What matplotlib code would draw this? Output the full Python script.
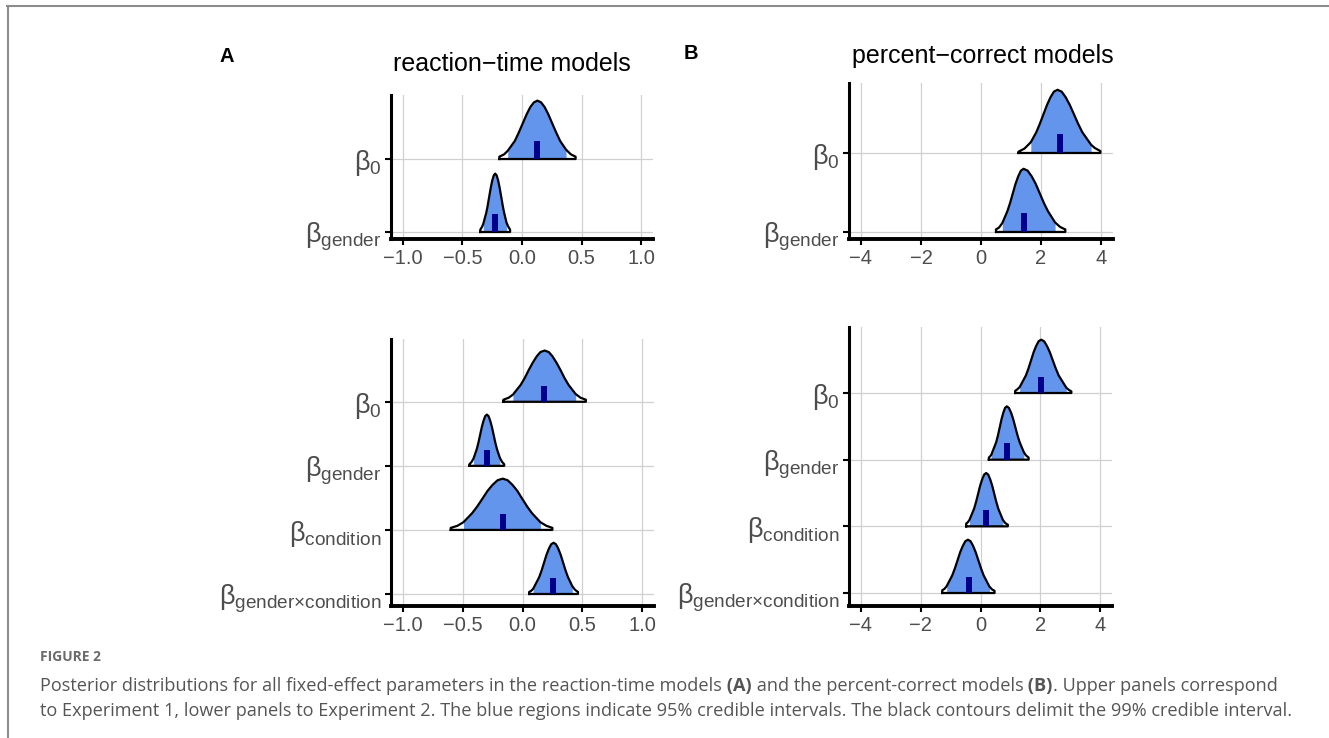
import numpy as np
import matplotlib
matplotlib.use('Agg')
import matplotlib.pyplot as plt
from matplotlib.lines import Line2D

plt.rcParams['font.family'] = ['Liberation Sans', 'DejaVu Sans']
plt.rcParams['mathtext.fontset'] = 'custom'
plt.rcParams['mathtext.rm'] = 'Liberation Sans'
plt.rcParams['mathtext.it'] = 'Liberation Sans'
plt.rcParams['mathtext.bf'] = 'Liberation Sans:bold'

# ---- data ----
labels_exp1 = [r'$\beta_{0}$', r'$\beta_{gender}$']
labels_exp2 = [r'$\beta_{0}$', r'$\beta_{gender}$', r'$\beta_{condition}$',
               r'$\beta_{gender{\times}condition}$']

# reaction-time, experiment 1  (x positions / heights relative to the peak)
rt1_x = [[-0.19, -0.15, -0.12, -0.06, -0.03, 0.00, 0.04, 0.07, 0.10, 0.13, 0.16, 0.19, 0.22, 0.26, 0.29, 0.32, 0.37, 0.41, 0.45],
         [-0.35, -0.335, -0.325, -0.30, -0.29, -0.275, -0.262, -0.25, -0.237, -0.225, -0.213, -0.20, -0.188, -0.175, -0.16, -0.15, -0.13, -0.115, -0.10]]
rt1_h = [[0.04, 0.08, 0.14, 0.31, 0.44, 0.58, 0.77, 0.89, 0.97, 1.0, 0.97, 0.89, 0.77, 0.58, 0.44, 0.31, 0.16, 0.08, 0.04],
         [0.04, 0.09, 0.14, 0.33, 0.43, 0.61, 0.76, 0.88, 0.97, 1.0, 0.97, 0.88, 0.76, 0.61, 0.43, 0.33, 0.16, 0.09, 0.04]]
rt1_med = [0.125, -0.228]
rt1_ci95 = [(-0.12, 0.37), (-0.325, -0.13)]

# reaction-time, experiment 2
rt2_x = [[-0.16, -0.115, -0.08, -0.015, 0.02, 0.05, 0.085, 0.12, 0.15, 0.185, 0.22, 0.25, 0.285, 0.32, 0.35, 0.385, 0.445, 0.485, 0.53],
         [-0.444, -0.425, -0.41, -0.382, -0.368, -0.354, -0.34, -0.326, -0.312, -0.298, -0.284, -0.27, -0.256, -0.242, -0.228, -0.214, -0.19, -0.172, -0.153],
         [-0.60, -0.545, -0.494, -0.42, -0.378, -0.335, -0.293, -0.25, -0.208, -0.165, -0.125, -0.084, -0.043, -0.003, 0.038, 0.078, 0.15, 0.20, 0.25],
         [0.056, 0.072, 0.089, 0.14, 0.16, 0.18, 0.20, 0.22, 0.24, 0.26, 0.28, 0.30, 0.32, 0.34, 0.36, 0.38, 0.417, 0.44, 0.464]]
rt2_h = [[0.04, 0.08, 0.14, 0.33, 0.47, 0.61, 0.76, 0.89, 0.97, 1.0, 0.97, 0.89, 0.76, 0.61, 0.47, 0.33, 0.15, 0.08, 0.04],
         [0.03, 0.08, 0.14, 0.33, 0.46, 0.61, 0.76, 0.88, 0.97, 1.0, 0.97, 0.88, 0.76, 0.61, 0.46, 0.33, 0.16, 0.08, 0.03],
         [0.04, 0.08, 0.15, 0.33, 0.46, 0.61, 0.76, 0.88, 0.97, 1.0, 0.97, 0.88, 0.76, 0.61, 0.46, 0.33, 0.15, 0.08, 0.04],
         [0.04, 0.06, 0.10, 0.33, 0.46, 0.61, 0.76, 0.88, 0.97, 1.0, 0.97, 0.88, 0.76, 0.61, 0.46, 0.33, 0.15, 0.08, 0.04]]
rt2_med = [0.178, -0.297, -0.167, 0.258]
rt2_ci95 = [(-0.08, 0.445), (-0.41, -0.19), (-0.494, 0.15), (0.089, 0.417)]

# percent-correct, experiment 1
pc1_x = [[1.25, 1.45, 1.66, 1.845, 1.96, 2.08, 2.2, 2.315, 2.43, 2.55, 2.69, 2.825, 2.96, 3.10, 3.24, 3.375, 3.67, 3.79, 3.98],
         [0.50, 0.60, 0.71, 0.88, 0.97, 1.06, 1.15, 1.24, 1.33, 1.42, 1.555, 1.69, 1.825, 1.96, 2.095, 2.23, 2.47, 2.635, 2.81]]
pc1_h = [[0.02, 0.07, 0.17, 0.33, 0.46, 0.61, 0.76, 0.88, 0.97, 1.0, 0.97, 0.88, 0.76, 0.61, 0.46, 0.33, 0.13, 0.08, 0.03],
         [0.04, 0.07, 0.14, 0.33, 0.46, 0.61, 0.76, 0.88, 0.97, 1.0, 0.97, 0.88, 0.76, 0.61, 0.46, 0.33, 0.15, 0.08, 0.04]]
pc1_med = [2.63, 1.44]
pc1_ci95 = [(1.66, 3.67), (0.71, 2.47)]

# percent-correct, experiment 2
pc2_x = [[1.16, 1.235, 1.31, 1.52, 1.605, 1.69, 1.775, 1.86, 1.945, 2.03, 2.128, 2.225, 2.323, 2.42, 2.518, 2.615, 2.87, 2.95, 3.04],
         [0.28, 0.32, 0.36, 0.527, 0.586, 0.645, 0.704, 0.763, 0.821, 0.88, 0.951, 1.023, 1.094, 1.165, 1.236, 1.308, 1.45, 1.52, 1.61],
         [-0.48, -0.42, -0.37, -0.215, -0.147, -0.08, -0.013, 0.055, 0.122, 0.19, 0.258, 0.325, 0.393, 0.46, 0.528, 0.595, 0.75, 0.83, 0.915],
         [-1.28, -1.2, -1.13, -0.945, -0.858, -0.77, -0.683, -0.595, -0.508, -0.42, -0.333, -0.245, -0.158, -0.07, 0.018, 0.105, 0.30, 0.38, 0.47]]
pc2_h = [[0.04, 0.07, 0.11, 0.33, 0.46, 0.61, 0.76, 0.88, 0.97, 1.0, 0.97, 0.88, 0.76, 0.61, 0.46, 0.33, 0.10, 0.06, 0.03],
         [0.04, 0.06, 0.09, 0.33, 0.46, 0.61, 0.76, 0.88, 0.97, 1.0, 0.97, 0.88, 0.76, 0.61, 0.46, 0.33, 0.14, 0.08, 0.04],
         [0.05, 0.08, 0.12, 0.33, 0.46, 0.61, 0.76, 0.88, 0.97, 1.0, 0.97, 0.88, 0.76, 0.61, 0.46, 0.33, 0.12, 0.06, 0.03],
         [0.05, 0.08, 0.13, 0.33, 0.46, 0.61, 0.76, 0.88, 0.97, 1.0, 0.97, 0.88, 0.76, 0.61, 0.46, 0.33, 0.12, 0.07, 0.04]]
pc2_med = [2.04, 0.89, 0.2, -0.40]
pc2_ci95 = [(1.31, 2.87), (0.36, 1.45), (-0.37, 0.75), (-1.13, 0.30)]

rt_ticks = [-1.0, -0.5, 0.0, 0.5, 1.0]
rt_ticklabels = ['\u22121.0', '\u22120.5', '0.0', '0.5', '1.0']
pc_ticks = [-4, -2, 0, 2, 4]
pc_ticklabels = ['\u22124', '\u22122', '0', '2', '4']

caption_head = 'FIGURE 2'
caption_line1 = [('Posterior distributions for all fixed-effect parameters in the reaction-time models', 'normal'),
                 (' (A)', 'bold'),
                 (' and the percent-correct models', 'normal'),
                 (' (B)', 'bold'),
                 ('. Upper panels correspond', 'normal')]
caption_line2 = ('to Experiment 1, lower panels to Experiment 2. The blue regions indicate 95% '
                 'credible intervals. The black contours delimit the 99% credible interval.')

W, H = 1329, 738
FILL = '#6495ED'
POINT = '#00008B'
GREY = '#4D4D4D'
RIDGE = 0.8
CAPFONT = ['Open Sans', 'DejaVu Sans']
CAPSIZE = 13.05


def px_box(left, top, right, bottom):
    return [left / W, 1 - bottom / H, (right - left) / W, (bottom - top) / H]


def ridges(ax, labels, xs, hs, meds, ci95, xlim, ylim, ticks, ticklabels):
    n = len(labels)
    for i in range(n):
        base = n - i
        x = np.array(xs[i])
        y = base + RIDGE * np.array(hs[i])
        lo, hi = ci95[i]
        ax.fill_between(x, base, y, color='white', lw=0, zorder=3)
        m = (x >= lo - 1e-9) & (x <= hi + 1e-9)
        ax.fill_between(x[m], base, y[m], color=FILL, lw=0, zorder=4)
        ax.plot(np.r_[x[0], x, x[-1], x[0]], np.r_[base, y, base, base],
                color='black', lw=1.6, zorder=5, solid_joinstyle='round')
        ax.vlines(meds[i], base, base + 0.245, color=POINT, lw=4.3, zorder=6)
    ax.set_xlim(*xlim)
    ax.set_ylim(*ylim)
    ax.set_xticks(ticks)
    ax.set_xticklabels(ticklabels)
    ax.set_yticks(range(n, 0, -1))
    ax.set_yticklabels(labels)
    ax.grid(True, color='#d0d0d0', lw=0.9, zorder=0)
    ax.set_axisbelow(True)
    for s in ['top', 'right']:
        ax.spines[s].set_visible(False)
    ax.spines['left'].set_linewidth(2.2)
    ax.spines['bottom'].set_linewidth(2.8)
    ax.tick_params(axis='x', length=4, width=1.5, pad=3, labelsize=14.5, labelcolor=GREY)
    ax.tick_params(axis='y', length=4, width=1.5, pad=3, labelsize=19.5, labelcolor=GREY)


fig = plt.figure(figsize=(W / 100, H / 100), dpi=100)

ax1 = fig.add_axes(px_box(391, 95, 653, 239))
ridges(ax1, labels_exp1, rt1_x, rt1_h, rt1_med, rt1_ci95, (-1.1, 1.1), (0.904, 2.877), rt_ticks, rt_ticklabels)
ax2 = fig.add_axes(px_box(849, 83, 1113, 239))
ridges(ax2, labels_exp1, pc1_x, pc1_h, pc1_med, pc1_ci95, (-4.4, 4.4), (0.911, 2.886), pc_ticks, pc_ticklabels)
ax3 = fig.add_axes(px_box(391, 339, 654, 606))
ridges(ax3, labels_exp2, rt2_x, rt2_h, rt2_med, rt2_ci95, (-1.1, 1.1), (0.8125, 4.98), rt_ticks, rt_ticklabels)
ax4 = fig.add_axes(px_box(849, 327, 1112, 606))
ridges(ax4, labels_exp2, pc2_x, pc2_h, pc2_med, pc2_ci95, (-4.4, 4.4), (0.805, 4.99), pc_ticks, pc_ticklabels)

# panel titles and letters
fig.text(512 / W, 1 - 71 / H, 'reaction\u2212time models', ha='center', va='baseline', fontsize=18)
fig.text(983 / W, 1 - 63 / H, 'percent\u2212correct models', ha='center', va='baseline', fontsize=18)
fig.text(220 / W, 1 - 62 / H, 'A', ha='left', va='baseline', fontsize=14.5, fontweight='bold')
fig.text(684 / W, 1 - 59 / H, 'B', ha='left', va='baseline', fontsize=14.5, fontweight='bold')

# caption
cap = fig.add_axes([0, 0, 1, 1], zorder=-5)
cap.axis('off')
cap.set_xlim(0, 1)
cap.set_ylim(0, 1)
cap.text(40 / W, 1 - 661 / H, caption_head, ha='left', va='baseline', fontsize=10,
         fontweight='bold', color='#6b6b6b', family=CAPFONT)
prev = None
for s, w in caption_line1:
    if prev is None:
        prev = cap.text(40 / W, 1 - 691 / H, s, ha='left', va='baseline', fontsize=CAPSIZE,
                        fontweight=w, color='#555555', family=CAPFONT)
    else:
        prev = cap.annotate(s, xy=(1, 0), xycoords=prev, ha='left', va='bottom', fontsize=CAPSIZE,
                            fontweight=w, color='#555555', family=CAPFONT)
cap.text(40 / W, 1 - 716 / H, caption_line2, ha='left', va='baseline', fontsize=CAPSIZE,
         color='#555555', family=CAPFONT)

# grey frame (top and left)
fig.add_artist(Line2D([7 / W, 1], [1 - 6 / H, 1 - 6 / H], color='#8c8c8c', lw=1.5))
fig.add_artist(Line2D([7.5 / W, 7.5 / W], [0, 1 - 6 / H], color='#8c8c8c', lw=1.5))

fig.savefig('out.png', dpi=100)
